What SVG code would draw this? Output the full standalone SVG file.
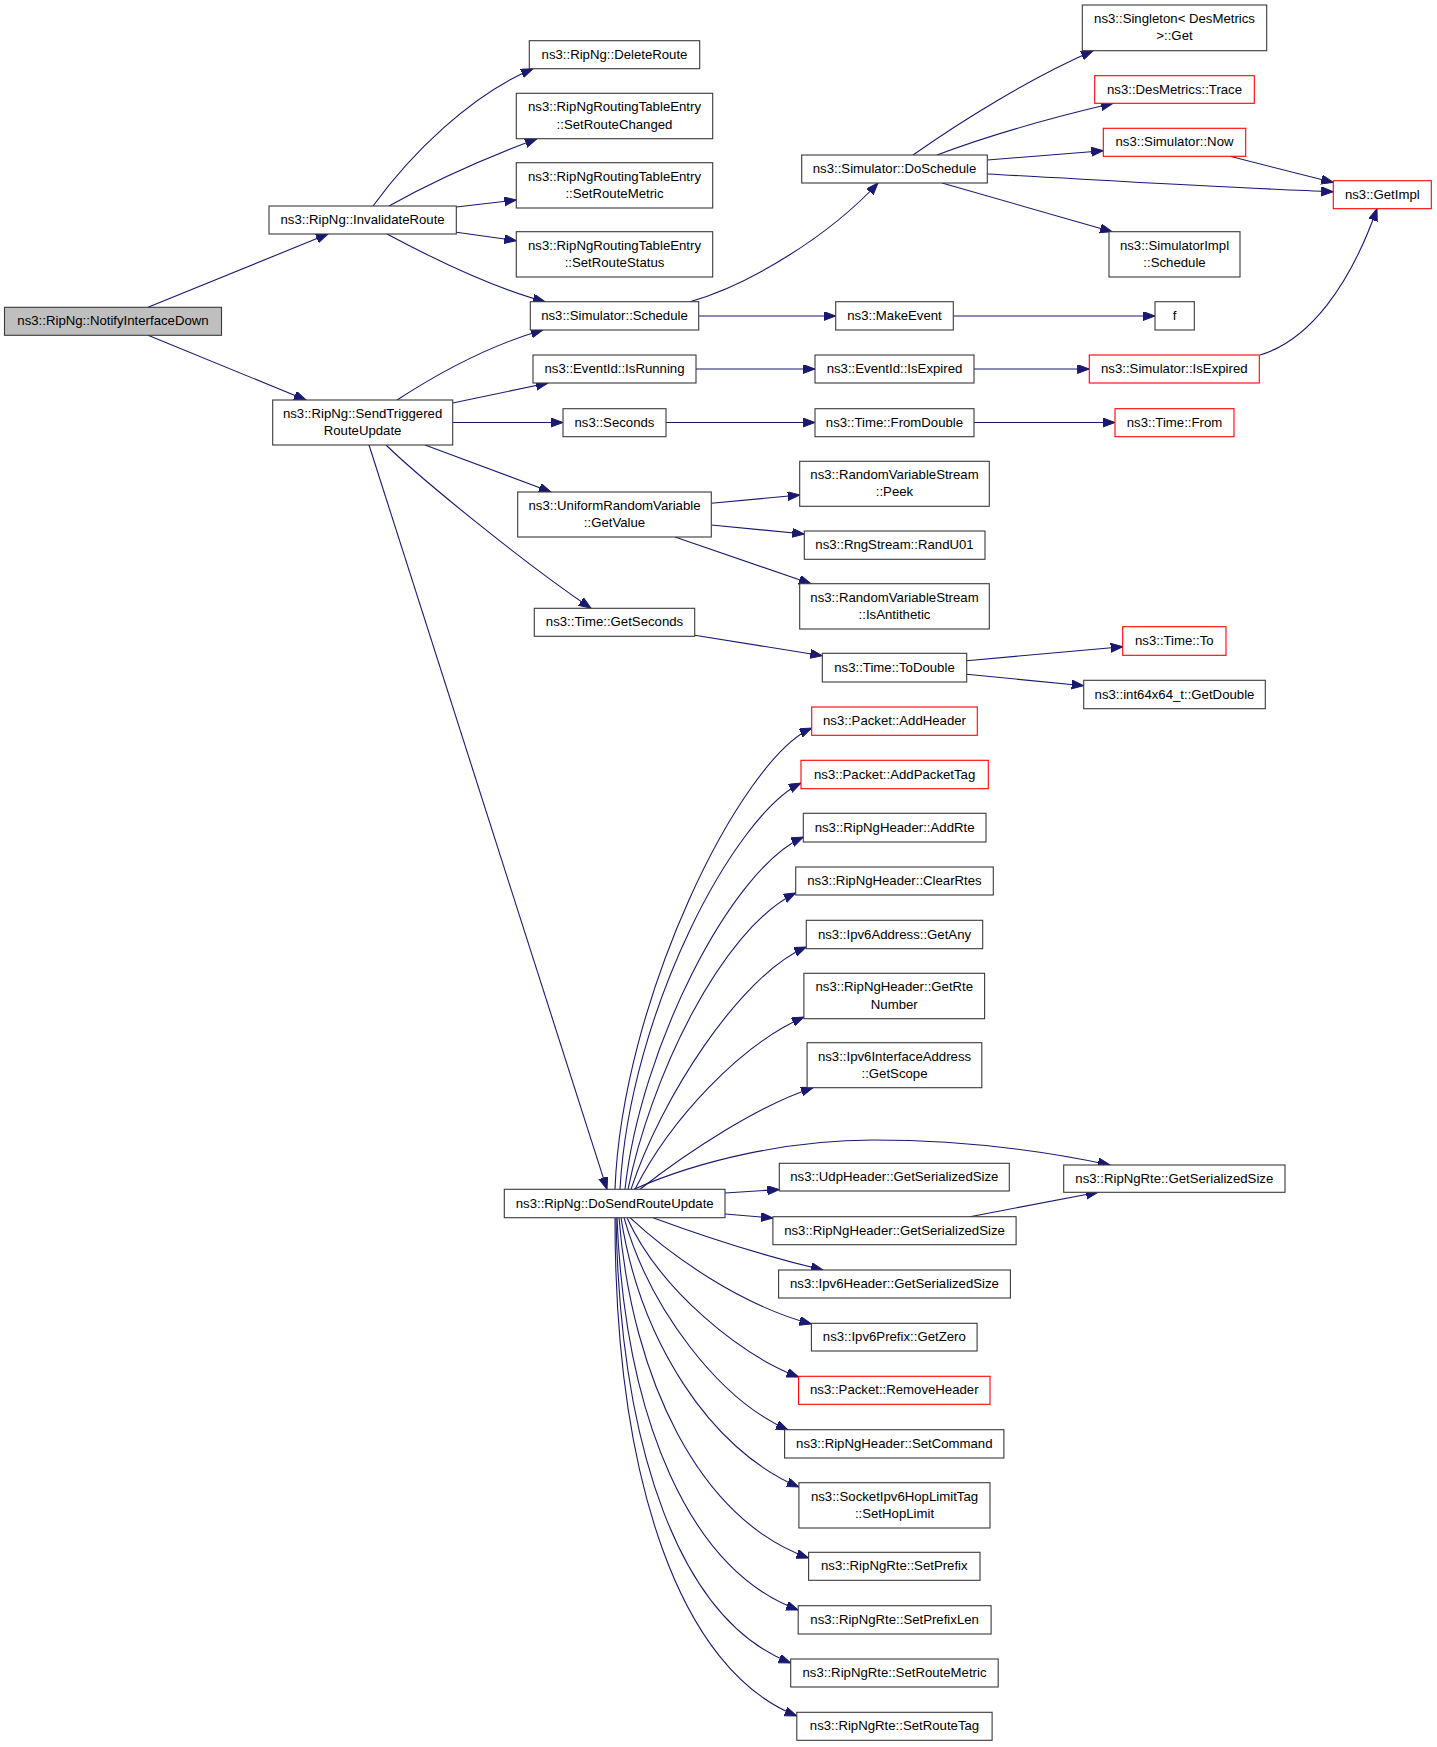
<svg xmlns="http://www.w3.org/2000/svg" width="1437" height="1747" viewBox="0 0 1437 1747">
<style>
rect{fill:#fff;stroke:#3a3a3a;stroke-width:1.1}
rect.r{stroke:#ff0000}
rect.root{fill:#bfbfbf}
text{font-family:"Liberation Sans",Arial,sans-serif;font-size:13.2px;fill:#000;text-anchor:middle}
#edges path{fill:none;stroke:#191970;stroke-width:1.1;marker-end:url(#ah)}
</style>
<defs>
<marker id="ah" markerUnits="userSpaceOnUse" markerWidth="13" markerHeight="10" refX="12" refY="4.5" orient="auto">
<path d="M0,0 L12,4.5 L0,9 z" fill="#191970" stroke="#191970" stroke-width="1"/>
</marker>
</defs>
<rect x="0" y="0" width="1437" height="1747" style="fill:#fff;stroke:none"/>
<g id="edges">
<path d="M148,307.3 L328,234"/>
<path d="M148,335.3 L306,400"/>
<path d="M373,206 C410,155 470,95 533,68.7"/>
<path d="M389,206 C430,183 480,160 537,138.7"/>
<path d="M456.3,207 L516.3,200"/>
<path d="M456.3,232.3 L516.3,240.7"/>
<path d="M387,234 C430,257 490,287 545,301.7"/>
<path d="M397,400 C440,372 490,345 543,330"/>
<path d="M452.7,403 L548,383"/>
<path d="M452.7,422.5 L563,422.5"/>
<path d="M425,445 L551,492"/>
<path d="M386,445 C420,478 520,560 591,608.3"/>
<path d="M369,445 L607,1189.3"/>
<path d="M690,301.7 C750,285 830,235 878,183"/>
<path d="M698.7,316 L835.7,316"/>
<path d="M953.3,316 L1155,316"/>
<path d="M913,155 C960,122 1030,78 1093,50.7"/>
<path d="M937,155 C990,135 1050,118 1113,103.3"/>
<path d="M987.3,160 L1103.3,150.7"/>
<path d="M987.3,174 C1100,180 1250,189 1333.3,191.7"/>
<path d="M942,183 L1112,231.7"/>
<path d="M1230,156.3 L1333.3,182.5"/>
<path d="M1260,355 C1310,340 1350,285 1377,208.7"/>
<path d="M696,369 L815,369"/>
<path d="M974,369 L1089.3,369"/>
<path d="M666,422.5 L815,422.5"/>
<path d="M974,422.5 L1115,422.5"/>
<path d="M711.3,503.3 L799.7,495"/>
<path d="M711.3,525 L804.3,534"/>
<path d="M675,537 L811,583.7"/>
<path d="M694.7,635.3 L822.3,655.7"/>
<path d="M966.7,660.7 L1122.7,646.7"/>
<path d="M966.7,674.3 L1083.7,685.7"/>
<path d="M970,1216.7 L1098,1192.3"/>
<path d="M634,1189.3 C700,1160 790,1140 873,1140 C960,1140 1040,1150 1110,1165"/>
<path d="M725,1193 L779.3,1189.5"/>
<path d="M725,1214 L772.9,1218"/>
<path d="M653,1217.7 C700,1235 760,1255 823,1270"/>
<path d="M630,1217.7 C670,1255 740,1305 811.4,1324"/>
<path d="M627,1217.7 C660,1290 740,1355 798.6,1377"/>
<path d="M624,1217.7 C650,1310 720,1400 788,1430"/>
<path d="M621,1217.7 C640,1340 710,1450 798.9,1487"/>
<path d="M619,1217.7 C632,1380 700,1520 808.6,1558"/>
<path d="M617,1217.7 C625,1420 690,1570 798.2,1610"/>
<path d="M616,1217.7 C620,1450 680,1620 790.7,1663"/>
<path d="M615,1217.7 C615,1480 680,1670 796.8,1716"/>
<path d="M615,1189.3 C622,1000 740,760 811.7,728"/>
<path d="M620,1189.3 C630,1010 735,815 801,783"/>
<path d="M625,1189.3 C640,1050 730,870 803.3,837"/>
<path d="M628,1189.3 C650,1080 720,930 795.7,893"/>
<path d="M631,1189.3 C660,1100 740,975 806.3,947"/>
<path d="M635,1189.3 C670,1120 740,1045 803.9,1017"/>
<path d="M640,1189.3 C690,1150 760,1105 813,1087.7"/>
</g>
<g id="n0"><rect class="root" x="4.5" y="307.3" width="217" height="28"/><text x="113" y="325.3">ns3::RipNg::NotifyInterfaceDown</text></g>
<g id="n1"><rect x="269" y="206" width="187.3" height="28"/><text x="362.6" y="224">ns3::RipNg::InvalidateRoute</text></g>
<g id="n2"><rect x="272.7" y="400" width="180" height="45"/><text x="362.6" y="417.7">ns3::RipNg::SendTriggered</text><text x="362.6" y="435">RouteUpdate</text></g>
<g id="n3"><rect x="529.3" y="40.7" width="170.4" height="28"/><text x="614.5" y="58.7">ns3::RipNg::DeleteRoute</text></g>
<g id="n4"><rect x="516.3" y="93.3" width="196.4" height="45.4"/><text x="614.5" y="111.3">ns3::RipNgRoutingTableEntry</text><text x="614.5" y="128.6">::SetRouteChanged</text></g>
<g id="n5"><rect x="516.3" y="162.7" width="196.4" height="45.3"/><text x="614.5" y="180.6">ns3::RipNgRoutingTableEntry</text><text x="614.5" y="197.9">::SetRouteMetric</text></g>
<g id="n6"><rect x="516.3" y="231.7" width="196.4" height="45.3"/><text x="614.5" y="249.6">ns3::RipNgRoutingTableEntry</text><text x="614.5" y="266.9">::SetRouteStatus</text></g>
<g id="n7"><rect x="530.3" y="301.7" width="168.4" height="28.3"/><text x="614.5" y="319.9">ns3::Simulator::Schedule</text></g>
<g id="n8"><rect x="533" y="355" width="163" height="28"/><text x="614.5" y="373">ns3::EventId::IsRunning</text></g>
<g id="n9"><rect x="563" y="408.7" width="103" height="28"/><text x="614.5" y="426.7">ns3::Seconds</text></g>
<g id="n10"><rect x="517.7" y="492" width="193.6" height="45"/><text x="614.5" y="509.8">ns3::UniformRandomVariable</text><text x="614.5" y="527.1">::GetValue</text></g>
<g id="n11"><rect x="534.3" y="608.3" width="160.4" height="28"/><text x="614.5" y="626.3">ns3::Time::GetSeconds</text></g>
<g id="n12"><rect x="504.3" y="1189.3" width="220.7" height="28.4"/><text x="614.7" y="1207.5">ns3::RipNg::DoSendRouteUpdate</text></g>
<g id="n13"><rect x="801.7" y="155" width="185.6" height="28"/><text x="894.5" y="173">ns3::Simulator::DoSchedule</text></g>
<g id="n14"><rect x="835.7" y="301.7" width="117.6" height="28.3"/><text x="894.5" y="319.9">ns3::MakeEvent</text></g>
<g id="n15"><rect x="815" y="355" width="159" height="28"/><text x="894.5" y="373">ns3::EventId::IsExpired</text></g>
<g id="n16"><rect x="815" y="408.7" width="159" height="28"/><text x="894.5" y="426.7">ns3::Time::FromDouble</text></g>
<g id="n17"><rect x="799.7" y="461.3" width="189.6" height="45"/><text x="894.5" y="479.1">ns3::RandomVariableStream</text><text x="894.5" y="496.4">::Peek</text></g>
<g id="n18"><rect x="804.3" y="531" width="180.7" height="28.3"/><text x="894.5" y="549.2">ns3::RngStream::RandU01</text></g>
<g id="n19"><rect x="799.7" y="583.7" width="189.6" height="45.3"/><text x="894.5" y="601.6">ns3::RandomVariableStream</text><text x="894.5" y="618.9">::IsAntithetic</text></g>
<g id="n20"><rect x="822.3" y="653.3" width="144.4" height="28.7"/><text x="894.5" y="671.7">ns3::Time::ToDouble</text></g>
<g id="n21"><rect class="r" x="811.7" y="707" width="165.6" height="28.3"/><text x="894.5" y="725.2">ns3::Packet::AddHeader</text></g>
<g id="n22"><rect class="r" x="801" y="760.3" width="187.3" height="28.4"/><text x="894.6" y="778.5">ns3::Packet::AddPacketTag</text></g>
<g id="n23"><rect x="803.3" y="813.3" width="182.7" height="28.7"/><text x="894.6" y="831.7">ns3::RipNgHeader::AddRte</text></g>
<g id="n24"><rect x="795.7" y="867" width="197.6" height="28"/><text x="894.5" y="885">ns3::RipNgHeader::ClearRtes</text></g>
<g id="n25"><rect x="806.3" y="920.3" width="176.4" height="28.4"/><text x="894.5" y="938.5">ns3::Ipv6Address::GetAny</text></g>
<g id="n26"><rect x="803.9" y="973.3" width="180.7" height="45.4"/><text x="894.3" y="991.3">ns3::RipNgHeader::GetRte</text><text x="894.3" y="1008.6">Number</text></g>
<g id="n27"><rect x="807.1" y="1042.7" width="174.7" height="45"/><text x="894.5" y="1060.5">ns3::Ipv6InterfaceAddress</text><text x="894.5" y="1077.8">::GetScope</text></g>
<g id="n28"><rect x="779.3" y="1163.3" width="230" height="27.7"/><text x="894.3" y="1181.2">ns3::UdpHeader::GetSerializedSize</text></g>
<g id="n29"><rect x="772.9" y="1216.7" width="243.2" height="28"/><text x="894.5" y="1234.7">ns3::RipNgHeader::GetSerializedSize</text></g>
<g id="n30"><rect x="778.6" y="1270" width="231.8" height="28"/><text x="894.5" y="1288">ns3::Ipv6Header::GetSerializedSize</text></g>
<g id="n31"><rect x="811.4" y="1323.3" width="165.7" height="27.7"/><text x="894.3" y="1341.2">ns3::Ipv6Prefix::GetZero</text></g>
<g id="n32"><rect class="r" x="798.6" y="1376.3" width="191.4" height="28"/><text x="894.3" y="1394.3">ns3::Packet::RemoveHeader</text></g>
<g id="n33"><rect x="784.6" y="1429.7" width="219.3" height="28.3"/><text x="894.3" y="1447.9">ns3::RipNgHeader::SetCommand</text></g>
<g id="n34"><rect x="798.9" y="1482.7" width="191.1" height="45.3"/><text x="894.5" y="1500.6">ns3::SocketIpv6HopLimitTag</text><text x="894.5" y="1517.9">::SetHopLimit</text></g>
<g id="n35"><rect x="808.6" y="1552.3" width="171.4" height="28"/><text x="894.3" y="1570.3">ns3::RipNgRte::SetPrefix</text></g>
<g id="n36"><rect x="798.2" y="1605.7" width="192.9" height="28.3"/><text x="894.6" y="1623.9">ns3::RipNgRte::SetPrefixLen</text></g>
<g id="n37"><rect x="790.7" y="1659" width="207.5" height="28"/><text x="894.5" y="1677">ns3::RipNgRte::SetRouteMetric</text></g>
<g id="n38"><rect x="796.8" y="1712.3" width="195.3" height="28"/><text x="894.5" y="1730.3">ns3::RipNgRte::SetRouteTag</text></g>
<g id="n39"><rect x="1082.3" y="5" width="184.4" height="45.7"/><text x="1174.5" y="23">ns3::Singleton&lt; DesMetrics</text><text x="1174.5" y="40.3">&gt;::Get</text></g>
<g id="n40"><rect class="r" x="1094.7" y="75.7" width="159.6" height="27.6"/><text x="1174.5" y="93.5">ns3::DesMetrics::Trace</text></g>
<g id="n41"><rect class="r" x="1103.3" y="128.3" width="142.4" height="28"/><text x="1174.5" y="146.3">ns3::Simulator::Now</text></g>
<g id="n42"><rect x="1109" y="231.7" width="131" height="45.3"/><text x="1174.5" y="249.6">ns3::SimulatorImpl</text><text x="1174.5" y="266.9">::Schedule</text></g>
<g id="n43"><rect x="1155" y="301.7" width="39.3" height="28.3"/><text x="1174.7" y="319.9">f</text></g>
<g id="n44"><rect class="r" x="1089.3" y="355" width="170" height="28"/><text x="1174.3" y="373">ns3::Simulator::IsExpired</text></g>
<g id="n45"><rect class="r" x="1115" y="408.7" width="119" height="28"/><text x="1174.5" y="426.7">ns3::Time::From</text></g>
<g id="n46"><rect class="r" x="1122.7" y="626.7" width="103.3" height="28.6"/><text x="1174.3" y="645">ns3::Time::To</text></g>
<g id="n47"><rect x="1083.7" y="680.3" width="181.6" height="28.4"/><text x="1174.5" y="698.5">ns3::int64x64_t::GetDouble</text></g>
<g id="n48"><rect x="1063.7" y="1165" width="221.3" height="27.3"/><text x="1174.3" y="1182.7">ns3::RipNgRte::GetSerializedSize</text></g>
<g id="n49"><rect class="r" x="1333.3" y="180.7" width="98" height="28"/><text x="1382.3" y="198.7">ns3::GetImpl</text></g>
</svg>
